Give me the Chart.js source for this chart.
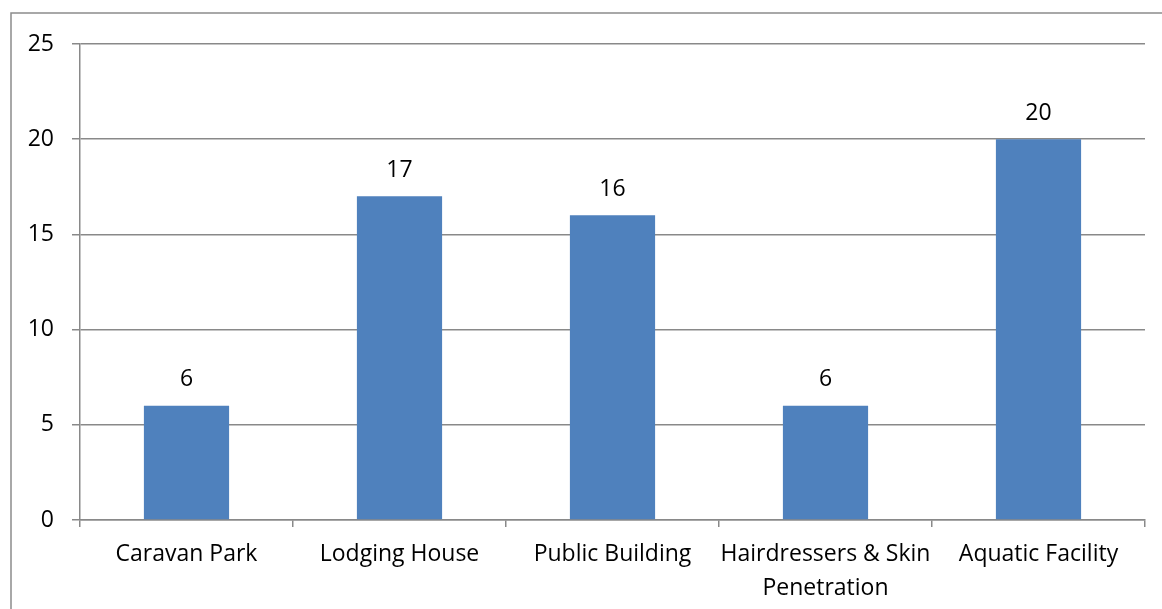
<!DOCTYPE html>
<html>
<head>
<meta charset="utf-8">
<script src="https://cdn.jsdelivr.net/npm/chart.js@4/dist/chart.umd.min.js"></script>
<style>
  html, body { margin: 0; padding: 0; background: #ffffff; }
  #wrap { position: relative; width: 1162px; height: 609px; }
  canvas { display: block; }
</style>
</head>
<body>
<div id="wrap"><canvas id="c" width="1162" height="609"></canvas></div>
<script>
const categories = ['Caravan Park', 'Lodging House', 'Public Building', ['Hairdressers & Skin', 'Penetration'], 'Aquatic Facility'];
const values = [6, 17, 16, 6, 20];
const yTicks = [0, 5, 10, 15, 20, 25];

const FONT = '"Open Sans", sans-serif';
const GRID = '#898989';

const frame = {
  id: 'frame',
  beforeDraw(chart) {
    const ctx = chart.ctx;
    ctx.save();
    ctx.fillStyle = '#ffffff';
    ctx.fillRect(0, 0, chart.width, chart.height);
    ctx.strokeStyle = '#8c8c8c';
    ctx.lineWidth = 1.5;
    ctx.strokeRect(11, 13, 1300, 800);
    ctx.restore();
  }
};

const valueLabels = {
  id: 'valueLabels',
  afterDatasetsDraw(chart) {
    const ctx = chart.ctx;
    const meta = chart.getDatasetMeta(0);
    ctx.save();
    ctx.font = '23px ' + FONT;
    ctx.fillStyle = '#000000';
    ctx.textAlign = 'center';
    ctx.textBaseline = 'middle';
    meta.data.forEach((el, i) => {
      ctx.fillText(String(values[i]), el.x, el.y - 26);
    });
    ctx.restore();
  }
};

new Chart(document.getElementById('c'), {
  type: 'bar',
  data: {
    labels: categories,
    datasets: [{
      data: values,
      backgroundColor: '#4F81BD',
      borderWidth: 0,
      barPercentage: 0.4,
      categoryPercentage: 1.0
    }]
  },
  options: {
    responsive: false,
    animation: false,
    layout: { padding: { left: 0, top: 44, right: 17, bottom: 0 } },
    plugins: { legend: { display: false }, tooltip: { enabled: false } },
    scales: {
      x: {
        grid: { display: true, drawOnChartArea: false, drawTicks: true, tickLength: 7, color: GRID, lineWidth: 1.5, offset: true },
        border: { display: true, color: GRID, width: 1.5 },
        ticks: { color: '#000000', font: { family: FONT, size: 23, lineHeight: 1.5 }, padding: 10, maxRotation: 0, autoSkip: false },
        afterFit(scale) { scale.height = 89; }
      },
      y: {
        min: 0, max: 25,
        afterBuildTicks(scale) { scale.ticks = yTicks.map(v => ({ value: v })); },
        grid: { color: GRID, lineWidth: 1.5, tickLength: 8, drawTicks: true },
        border: { display: true, color: GRID, width: 1.5 },
        ticks: { color: '#000000', font: { family: FONT, size: 23 }, padding: 18 },
        afterFit(scale) { scale.width = 80; }
      }
    }
  },
  plugins: [frame, valueLabels]
});
</script>
</body>
</html>
